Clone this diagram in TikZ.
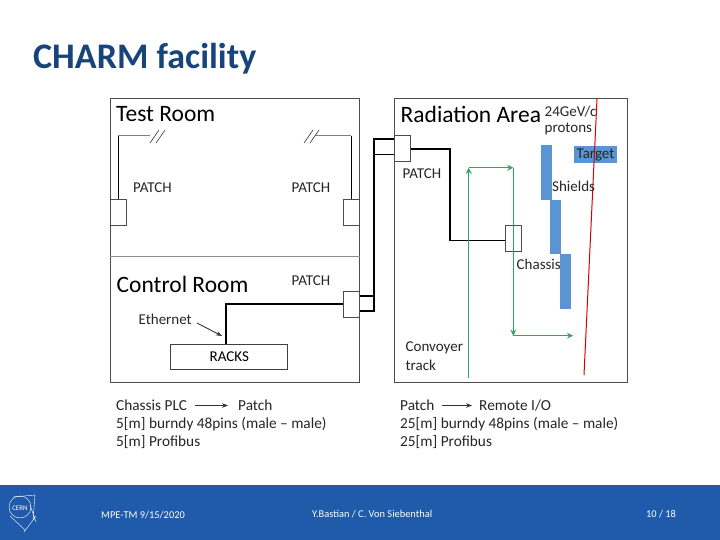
\documentclass[tikz,border=0pt]{standalone}
\usepackage{fontspec}
\setmainfont{Carlito}
\usepackage{xcolor}
\usetikzlibrary{arrows.meta,positioning}
\definecolor{cernblue}{HTML}{1F5AAB}
\definecolor{titleblue}{HTML}{17457A}
\definecolor{shieldblue}{HTML}{5B94D3}
\definecolor{trackgreen}{HTML}{2BA860}
\begin{document}
\begin{tikzpicture}[
      x=1pt, y=-1pt,
      room/.style={draw=black!70, fill=white, line width=0.8pt},
      port/.style={draw=black!70, fill=white, line width=0.6pt, minimum width=16.5pt, minimum height=26pt, inner sep=0pt},
      racksbox/.style={draw=black!75, line width=0.8pt, minimum width=117pt, minimum height=25pt, inner sep=0pt, font=\fontsize{15}{15}\selectfont},
      shield/.style={fill=shieldblue, minimum width=11pt, minimum height=54.5pt, inner sep=0pt},
      big/.style={font=\fontsize{23.5}{23.5}\selectfont, inner sep=0pt, anchor=west},
      lab/.style={font=\fontsize{15}{15}\selectfont, text=black!85, inner sep=0pt, anchor=west},
      note/.style={font=\fontsize{15.3}{18.5}\selectfont, text=black!85, inner sep=0pt, anchor=west},
      foot/.style={font=\fontsize{10.4}{10.4}\selectfont, text=white, inner sep=0pt, anchor=west},
      cable/.style={black, line width=1.2pt},
      bus/.style={black, line width=1.6pt},
      track/.style={trackgreen, line width=1.3pt, -{Stealth[length=6pt,width=6pt]}},
      cut/.style={black!80, line width=0.6pt},
      pointer/.style={black!80, line width=0.9pt, -{Stealth[length=6pt]}}
    ]
    \useasboundingbox (0,0) rectangle (720,540);
    \fill[white] (0,0) rectangle (720,540);
    \fill[cernblue] (0,485) rectangle (720,540);
    \node[anchor=west, inner sep=0pt, text=titleblue, font=\fontsize{36}{36}\selectfont\bfseries] (title) at (33,59) {CHARM facility};
    % rooms
    \node[room, minimum width=249.5pt, minimum height=284pt, inner sep=0pt] (rooms) at (234.75,240) {};
    \draw[draw=black!45, line width=0.8pt] (rooms.west |- 0,256) -- (rooms.east |- 0,256);
    \node[room, minimum width=233.5pt, minimum height=284pt, inner sep=0pt] (area) at (510.75,240) {};
    \node[big] (test) at (116,114) {Test Room};
    \node[big] (control) at (116.5,284) {Control Room};
    \node[big] (radiation) at (400.5,114) {Radiation Area};
    % patches
    \node[port] (patchA) at (118.2,212) {};
    \node[port] (patchB) at (351.2,212) {};
    \node[port] (patchC) at (351.2,304) {};
    \node[port] (patchD) at (402.2,148) {};
    \node[port] (chassis) at (513.3,238) {};
    \node[lab] (labA) at (133,188) {PATCH};
    \node[lab] (labB) at (291.5,188) {PATCH};
    \node[lab] (labC) at (291.5,281) {PATCH};
    \node[lab] (labD) at (402.5,174) {PATCH};
    \node[lab] (labChassis) at (516.5,264.5) {Chassis};
    % test room cables
    \coordinate (endA) at (150,135.7);
    \coordinate (endB) at (315,135.7);
    \draw[black, line width=1pt] (patchA.north) -- (patchA.north |- endA);
    \draw[draw=black!50, line width=1pt] (patchA.north |- endA) -- (endA);
    \draw[black, line width=1pt] (patchB.north) -- (patchB.north |- endB);
    \draw[draw=black!50, line width=1pt] (patchB.north |- endB) -- (endB);
    \draw[cut] (150,143) -- (159,130) (156,143) -- (165,130);
    \draw[cut] (304,143) -- (313,130) (310,143) -- (319,130);
    % control room
    \node[racksbox] (racks) at (229.3,356.5) {RACKS};
    \draw[bus] (racks.north -| 225.7,0) |- (patchC.west |- 0,303.7);
    \node[lab] (ethernet) at (138.5,319.5) {Ethernet};
    \coordinate (ethernetTip) at (222,336);
    \draw[pointer] (197,323) -- (ethernetTip);
    % link between rooms
    \draw[cable] (patchC.east |- 0,311) -- (374,311) -- (374,139) -- (patchD.west |- 0,139);
    \draw[cable] (patchC.east |- 0,296) -- (374,296);
    \draw[cable] (374,154.7) -- (patchD.west |- 0,154.7);
    \draw[bus] (patchD.east |- 0,149) -| (450,240.3) -- (chassis.west |- 0,240.3);
    % shields
    \node[shield] (shieldA) at (546.5,172.4) {};
    \node[shield] (shieldB) at (555.5,226.9) {};
    \node[shield] (shieldC) at (565.5,281.4) {};
    \node[fill=shieldblue, minimum width=43pt, minimum height=17.5pt, inner sep=0pt, font=\fontsize{15}{15}\selectfont, text=black!85] (target) at (595.5,154.5) {Target};
    \draw[draw=red!85!black, line width=1pt] (597,99) -- (584,375);
    \node[lab] (labShields) at (552,186) {Shields};
    \node[lab] (labEnergy) at (544.5,112) {24GeV/c};
    \node[lab] (labProtons) at (544.5,129) {protons};
    % convoyer track
    \coordinate (trackA) at (468.7,378);
    \coordinate (trackB) at (468.7,167.7);
    \coordinate (trackC) at (513.3,167.7);
    \coordinate (trackD) at (513.3,335.7);
    \coordinate (trackE) at (573,335.7);
    \draw[track] (trackA) -- (trackB);
    \draw[track] (trackB) -- (trackC);
    \draw[track] (trackC) -- (trackD);
    \draw[track] (trackD) -- (trackE);
    \node[lab] (labConvoyer) at (405.5,347.5) {Convoyer};
    \node[lab] (labTrack) at (405.5,365.5) {track};
    % captions
    \node[note] (plc) at (116,405.5) {Chassis PLC};
    \node[note] (patchL) at (238,405.5) {Patch};
    \draw[pointer, shorten >=10pt, shorten <=8pt] (plc.east) -- (patchL.west);
    \node[note] (burndyL) at (116,424) {5[m] burndy 48pins (male -- male)};
    \node[note] (busL) at (116,442.5) {5[m] Profibus};
    \node[note] (patchR) at (400,405.5) {Patch};
    \node[note] (remote) at (479,405.5) {Remote I/O};
    \draw[pointer, shorten >=7pt, shorten <=7pt] (patchR.east) -- (remote.west);
    \node[note] (burndyR) at (400,424) {25[m] burndy 48pins (male -- male)};
    \node[note] (busR) at (400,442.5) {25[m] Profibus};
    % footer
    \node[foot] (date) at (101,515) {MPE-TM 9/15/2020};
    \node[foot] (names) at (312,514) {Y.Bastian / C. Von Siebenthal};
    \node[foot] (page) at (646,514) {10 / 18};
    \draw[white, line width=0.4pt] (20,507) circle (11);
    \draw[white, line width=0.4pt] (13,497) -- (35,495) (35,495) -- (33,520) (10,516) -- (25,530) (36,516) -- (24,532) (30,505) -- (36,522);
    \node[foot, font=\fontsize{7}{7}\selectfont, anchor=center, fill=cernblue, inner sep=0.5pt] (cern) at (20,508) {CERN};
  \end{tikzpicture}
\end{document}
